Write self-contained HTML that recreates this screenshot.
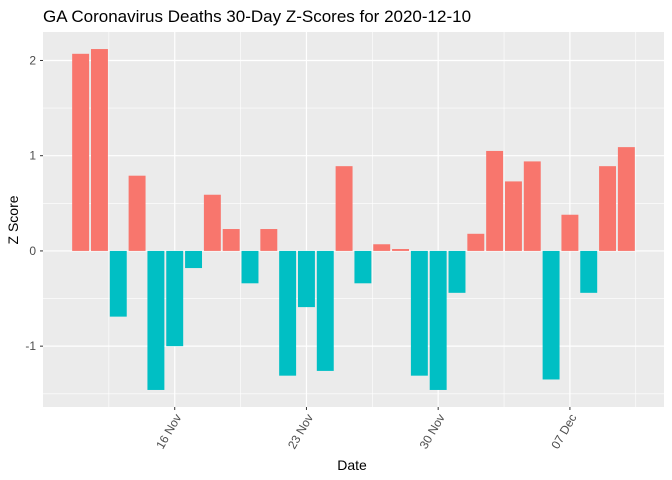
<!DOCTYPE html>
<html><head><meta charset="utf-8"><style>
body{margin:0;background:#fff;}
svg{display:block;font-family:"Liberation Sans",Arial,sans-serif;}
</style></head><body>
<svg id="chart" width="672" height="480">
<text x="43" y="22" font-size="17" fill="#000">GA Coronavirus Deaths 30-Day Z-Scores for 2020-12-10</text>
<rect x="43" y="32" width="621" height="375" fill="#ebebeb"/>
<g id="grid"></g><g id="bars"></g><g id="axes"></g>
<text x="352" y="470" font-size="14" text-anchor="middle" fill="#000">Date</text>
<text transform="translate(18,220) rotate(-90)" font-size="14" text-anchor="middle" fill="#000">Z Score</text>
</svg>
<script>
const dayIndex = [0,1,2,3,4,5,6,7,8,9,10,11,12,13,14,15,16,17,18,19,20,21,22,23,24,25,26,27,28,29]; // Nov 11 .. Dec 10
const zScores = [2.07,2.12,-0.69,0.79,-1.46,-1.0,-0.18,0.59,0.23,-0.34,0.23,-1.31,-0.59,-1.26,0.89,-0.34,0.07,0.02,-1.31,-1.46,-0.44,0.18,1.05,0.73,0.94,-1.35,0.38,-0.44,0.89,1.09];
const yTicks = [-1,0,1,2];
const xTickLabels = ["16 Nov","23 Nov","30 Nov","07 Dec"];
const xTickDays = [5,12,19,26];

const NS="http://www.w3.org/2000/svg";
const L=43,R=664,T=32,B=407;
const xMin=-2, xMax=31, yMin=-1.639, yMax=2.299;
const x=d=>L+(d-xMin)/(xMax-xMin)*(R-L);
const y=v=>B-(v-yMin)/(yMax-yMin)*(B-T);
function mk(tag,attrs,parent){const e=document.createElementNS(NS,tag);for(const k in attrs)e.setAttribute(k,attrs[k]);document.getElementById(parent).appendChild(e);return e;}
for(let v=-1.5;v<=2.3;v+=1){const g=mk('line',{x1:L,x2:R,y1:y(v),y2:y(v),stroke:'#fff','stroke-width':0.6},'grid');

}
for(let i=0;i<=xTickDays.length;i++){const d=(i===0?xTickDays[0]-3.5:xTickDays[i-1]+3.5);const g=mk('line',{x1:x(d),x2:x(d),y1:T,y2:B,stroke:'#fff','stroke-width':0.6},'grid');

}
yTicks.forEach(v=>{const g=mk('line',{x1:L,x2:R,y1:y(v),y2:y(v),stroke:'#fff','stroke-width':1.2},'grid');


const t=mk('text',{x:L-7,y:y(v)+4,'font-size':12,'text-anchor':'end',fill:'#4d4d4d'},'axes');t.textContent=String(v);


const tk=mk('line',{x1:L-3,x2:L,y1:y(v),y2:y(v),stroke:'#333','stroke-width':1},'axes');

});
xTickDays.forEach((d,i)=>{const g=mk('line',{x1:x(d),x2:x(d),y1:T,y2:B,stroke:'#fff','stroke-width':1.2},'grid');


const tk=mk('line',{x1:x(d),x2:x(d),y1:B,y2:B+3,stroke:'#333','stroke-width':1},'axes');


const t=mk('text',{transform:`translate(${x(d)+7},${B+10}) rotate(-60)`,'font-size':12,'text-anchor':'end',fill:'#4d4d4d'},'axes');t.textContent=xTickLabels[i];

});
const bw=0.9*(x(1)-x(0));
dayIndex.forEach((d,i)=>{const v=zScores[i];const r=mk('rect',{x:x(d)-bw/2,y:Math.min(y(v),y(0)),width:bw,height:Math.abs(y(v)-y(0)),fill:v>=0?'#f8766d':'#00bfc4'},'bars');

});
</script>
</body></html>
